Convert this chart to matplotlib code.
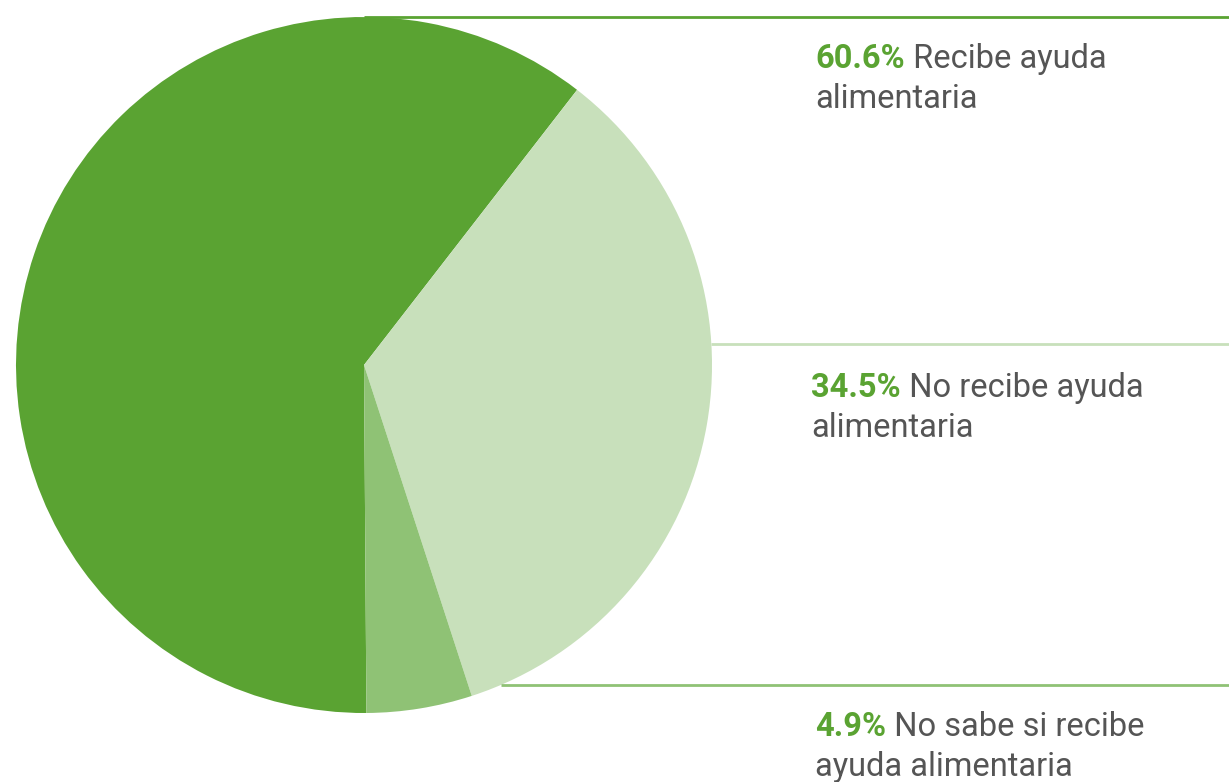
import numpy as np
import matplotlib.pyplot as plt

# ------------------------------------------------------------------
# Data
# ------------------------------------------------------------------

pcts = [60.6, 34.5, 4.9]
pct_labels = ["60.6%", "34.5%", "4.9%"]
first_lines = ["Recibe ayuda", "No recibe ayuda", "No sabe si recibe"]
second_lines = ["alimentaria", "alimentaria", "ayuda alimentaria"]

colors = ["#5aa332", "#c8e0bb", "#8fc275"]
TEXT_GRAY = "#555555"

# ------------------------------------------------------------------
# Layout (pixel coords, y from bottom)
# ------------------------------------------------------------------

W, H = 1229, 782
cx, cy, r = 364, 782 - 365, 348
line_y = [782 - 17, 782 - 344, 782 - 685]
label_x = [815, 811, 815]
label_base = [782 - 68, 782 - 397, 782 - 736]
line_gap = 40
FS = 23.5

plt.rcParams["font.family"] = ["Roboto", "DejaVu Sans"]

fig = plt.figure(figsize=(W / 100, H / 100), dpi=100)
ax = fig.add_axes([0, 0, 1, 1])

ax.pie(
    pcts,
    colors=colors,
    startangle=270.4,
    counterclock=False,
    center=(cx, cy),
    radius=r,
    frame=True,
)
ax.set_xlim(0, W)
ax.set_ylim(0, H)
ax.set_aspect("equal")
ax.axis("off")

# leader lines start at the circle edge
for y, c in zip(line_y, colors):
    dy = y - cy
    x0 = cx + np.sqrt(max(r ** 2 - dy ** 2, 0))
    ax.plot([x0, W], [y, y], color=c, linewidth=2, solid_capstyle="butt")

for i in range(3):
    t1 = ax.text(
        label_x[i], label_base[i], pct_labels[i],
        fontsize=FS, fontweight="bold", color=colors[0],
        va="baseline", ha="left",
    )
    ax.annotate(
        " " + first_lines[i],
        xy=(1, 0), xycoords=t1,
        fontsize=FS, color=TEXT_GRAY,
        va="bottom", ha="left",
    )
    ax.text(
        label_x[i], label_base[i] - line_gap, second_lines[i],
        fontsize=FS, color=TEXT_GRAY,
        va="baseline", ha="left",
    )

fig.savefig("out.png", dpi=100)
